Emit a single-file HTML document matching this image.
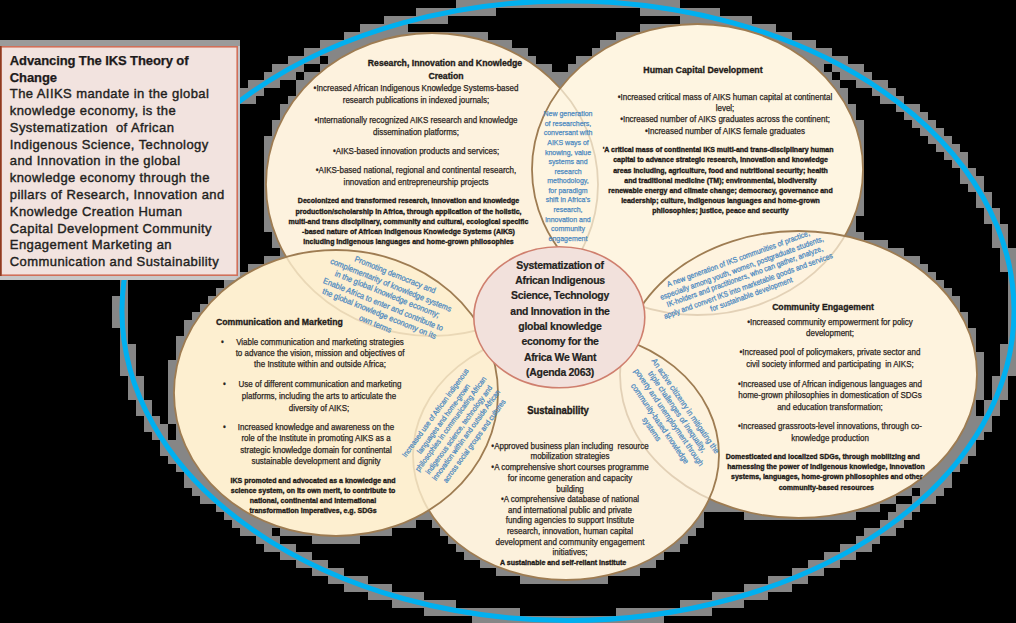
<!DOCTYPE html>
<html><head><meta charset="utf-8">
<style>
html,body{margin:0;padding:0;background:#000;}
body{width:1016px;height:623px;position:relative;overflow:hidden;font-family:"Liberation Sans",sans-serif;}
svg{position:absolute;left:0;top:0;}
.t{position:absolute;white-space:pre;color:#2b2522;text-align:center;-webkit-text-stroke:0.25px currentColor;}
</style></head><body>
<svg width="1016" height="623" viewBox="0 0 1016 623">
  <defs></defs><g id="fringe"><path d="M456 0h224v8h-224zM416 8h80v8h-80zM640 8h80v8h-80zM384 16h64v8h-64zM680 16h72v8h-72zM360 24h48v8h-48zM640 24h136v8h-136zM344 32h144v8h-144zM616 32h176v8h-176zM0 40h240v8h-240zM320 40h192v8h-192zM600 40h216v8h-216zM0 48h240v8h-240zM304 48h224v8h-224zM592 48h240v8h-240zM0 56h240v8h-240zM288 56h32v8h-32zM328 56h208v8h-208zM576 56h272v8h-272zM0 64h240v8h-240zM272 64h32v8h-32zM320 64h232v8h-232zM568 64h256v8h-256zM832 64h32v8h-32zM0 72h240v8h-240zM264 72h32v8h-32zM304 72h528v8h-528zM840 72h32v8h-32zM0 80h240v8h-240zM248 80h32v8h-32zM296 80h544v8h-544zM856 80h32v8h-32zM0 88h264v8h-264zM296 88h552v8h-552zM872 88h24v8h-24zM0 96h256v8h-256zM288 96h560v8h-560zM880 96h24v8h-24zM0 104h240v8h-240zM280 104h576v8h-576zM896 104h24v8h-24zM0 112h240v8h-240zM280 112h576v8h-576zM904 112h24v8h-24zM0 120h240v8h-240zM272 120h592v8h-592zM912 120h24v8h-24zM0 128h240v8h-240zM272 128h592v8h-592zM920 128h24v8h-24zM0 136h240v8h-240zM264 136h600v8h-600zM928 136h24v8h-24zM0 144h240v8h-240zM264 144h600v8h-600zM936 144h24v8h-24zM0 152h240v8h-240zM264 152h600v8h-600zM944 152h24v8h-24zM0 160h240v8h-240zM264 160h600v8h-600zM952 160h16v8h-16zM0 168h240v8h-240zM264 168h600v8h-600zM960 168h16v8h-16zM0 176h240v8h-240zM264 176h600v8h-600zM960 176h24v8h-24zM0 184h240v8h-240zM264 184h600v8h-600zM968 184h16v8h-16zM0 192h240v8h-240zM264 192h600v8h-600zM976 192h16v8h-16zM0 200h240v8h-240zM264 200h600v8h-600zM976 200h16v8h-16zM0 208h240v8h-240zM264 208h600v8h-600zM984 208h16v8h-16zM0 216h240v8h-240zM264 216h592v8h-592zM984 216h16v8h-16zM0 224h240v8h-240zM264 224h592v8h-592zM992 224h16v8h-16zM0 232h240v8h-240zM272 232h592v8h-592zM992 232h16v8h-16zM0 240h240v8h-240zM272 240h616v8h-616zM992 240h16v8h-16zM0 248h240v8h-240zM280 248h624v8h-624zM1000 248h16v8h-16zM0 256h240v8h-240zM264 256h656v8h-656zM1000 256h16v8h-16zM0 264h240v8h-240zM248 264h680v8h-680zM1000 264h16v8h-16zM0 272h936v8h-936zM1008 272h8v8h-8zM120 280h8v8h-8zM224 280h720v8h-720zM1008 280h8v8h-8zM120 288h8v8h-8zM216 288h736v8h-736zM1008 288h8v8h-8zM112 296h16v8h-16zM208 296h752v8h-752zM1008 296h8v8h-8zM112 304h16v8h-16zM200 304h760v8h-760zM1008 304h8v8h-8zM112 312h16v8h-16zM192 312h776v8h-776zM1008 312h8v8h-8zM112 320h16v8h-16zM184 320h784v8h-784zM1008 320h8v8h-8zM120 328h8v8h-8zM184 328h792v8h-792zM1008 328h8v8h-8zM120 336h8v8h-8zM176 336h800v8h-800zM1008 336h8v8h-8zM120 344h16v8h-16zM176 344h800v8h-800zM1000 344h16v8h-16zM120 352h16v8h-16zM176 352h808v8h-808zM1000 352h16v8h-16zM120 360h16v8h-16zM168 360h816v8h-816zM1000 360h16v8h-16zM120 368h16v8h-16zM168 368h816v8h-816zM1000 368h16v8h-16zM128 376h16v8h-16zM168 376h816v8h-816zM992 376h16v8h-16zM128 384h16v8h-16zM168 384h816v8h-816zM992 384h16v8h-16zM128 392h16v8h-16zM168 392h816v8h-816zM992 392h16v8h-16zM136 400h16v8h-16zM168 400h808v8h-808zM984 400h16v8h-16zM136 408h16v8h-16zM168 408h808v8h-808zM984 408h16v8h-16zM144 416h16v8h-16zM168 416h824v8h-824zM144 424h24v8h-24zM176 424h816v8h-816zM152 432h16v8h-16zM176 432h808v8h-808zM160 440h816v8h-816zM160 448h816v8h-816zM168 456h800v8h-800zM176 464h784v8h-784zM184 472h768v8h-768zM184 480h768v8h-768zM192 488h720v8h-720zM920 488h24v8h-24zM200 496h696v8h-696zM912 496h24v8h-24zM216 504h664v8h-664zM896 504h24v8h-24zM224 512h480v8h-480zM744 512h112v8h-112zM888 512h24v8h-24zM232 520h184v8h-184zM432 520h272v8h-272zM880 520h24v8h-24zM240 528h32v8h-32zM280 528h112v8h-112zM440 528h256v8h-256zM864 528h32v8h-32zM256 536h24v8h-24zM312 536h48v8h-48zM448 536h240v8h-240zM856 536h24v8h-24zM264 544h32v8h-32zM456 544h224v8h-224zM840 544h32v8h-32zM280 552h32v8h-32zM464 552h200v8h-200zM824 552h32v8h-32zM296 560h32v8h-32zM480 560h176v8h-176zM808 560h32v8h-32zM312 568h32v8h-32zM496 568h144v8h-144zM792 568h32v8h-32zM328 576h40v8h-40zM520 576h88v8h-88zM768 576h40v8h-40zM344 584h48v8h-48zM744 584h48v8h-48zM368 592h56v8h-56zM712 592h56v8h-56zM392 600h64v8h-64zM680 600h64v8h-64zM424 608h96v8h-96zM616 608h96v8h-96zM472 616h192v7h-192z" fill="#868686"/></g>
  <ellipse cx="568" cy="310.7" rx="446" ry="309.8" fill="none" stroke="#00B0F0" stroke-width="5"/>
  <rect x="0" y="40" width="240" height="240" fill="#9a9b9b"/><rect x="0" y="274" width="240" height="6" fill="#c8c8c8"/><rect x="236" y="46" width="4" height="234" fill="#c4c4c8"/>
  <rect x="0.8" y="46.8" width="236.4" height="228.4" fill="#F2E3DF" stroke="#D0705A" stroke-width="1.6"/>
  <rect x="0" y="46" width="1.6" height="230" fill="#8E3B20"/>
  <g fill="#FDF2DE">
    <ellipse cx="432" cy="184.5" rx="166" ry="151.5"/>
    <ellipse cx="697.5" cy="169.5" rx="165.5" ry="145.5" fill="#FEF5E0"/>
    <ellipse cx="798.5" cy="374.5" rx="178.5" ry="143.5"/>
    <ellipse cx="566" cy="455" rx="153" ry="125" fill="#FCF1DC"/>
    <ellipse cx="336" cy="393" rx="162" ry="143" fill="#FCEFD0"/>
  </g>
  <g stroke="#9E7C52" stroke-width="1.8">
    <ellipse cx="432" cy="184.5" rx="166" ry="151.5" fill="none"/>
    <ellipse cx="697.5" cy="169.5" rx="165.5" ry="145.5" fill="#FEF5E0" fill-opacity="0.72"/>
    <ellipse cx="798.5" cy="374.5" rx="178.5" ry="143.5" fill="#FDF2DE" fill-opacity="0.72"/>
    <ellipse cx="566" cy="455" rx="153" ry="125" fill="#FCF1DC" fill-opacity="0.72"/>
    <ellipse cx="336" cy="393" rx="162" ry="143" fill="#FCEFD0" fill-opacity="0.8"/>
  </g>
  <ellipse cx="559.3" cy="317.3" rx="85.5" ry="70.5" fill="#F2E1DC" stroke="#CF7F6E" stroke-width="1.6"/>
</svg>

<div class="t" style="top:53.90px;font-size:13.00px;line-height:13.00px;font-weight:bold;color:#1d1a1a;letter-spacing:-0.1px;left:9.80px;transform-origin:0 50%;">Advancing The IKS Theory of</div>
<div class="t" style="top:70.66px;font-size:13.00px;line-height:13.00px;font-weight:bold;color:#1d1a1a;letter-spacing:-0.1px;left:9.80px;transform-origin:0 50%;">Change</div>
<div class="t" style="top:87.42px;font-size:13.00px;line-height:13.00px;color:#231f20;letter-spacing:0.42px;-webkit-text-stroke:0.4px currentColor;left:9.80px;transform-origin:0 50%;">The AIIKS mandate in the global</div>
<div class="t" style="top:104.18px;font-size:13.00px;line-height:13.00px;color:#231f20;letter-spacing:0.42px;-webkit-text-stroke:0.4px currentColor;left:9.80px;transform-origin:0 50%;">knowledge economy, is the</div>
<div class="t" style="top:120.94px;font-size:13.00px;line-height:13.00px;color:#231f20;letter-spacing:0.42px;-webkit-text-stroke:0.4px currentColor;left:9.80px;transform-origin:0 50%;">Systematization  of African</div>
<div class="t" style="top:137.70px;font-size:13.00px;line-height:13.00px;color:#231f20;letter-spacing:0.42px;-webkit-text-stroke:0.4px currentColor;left:9.80px;transform-origin:0 50%;">Indigenous Science, Technology</div>
<div class="t" style="top:154.46px;font-size:13.00px;line-height:13.00px;color:#231f20;letter-spacing:0.42px;-webkit-text-stroke:0.4px currentColor;left:9.80px;transform-origin:0 50%;">and Innovation in the global</div>
<div class="t" style="top:171.22px;font-size:13.00px;line-height:13.00px;color:#231f20;letter-spacing:0.42px;-webkit-text-stroke:0.4px currentColor;left:9.80px;transform-origin:0 50%;">knowledge economy through the</div>
<div class="t" style="top:187.98px;font-size:13.00px;line-height:13.00px;color:#231f20;letter-spacing:0.42px;-webkit-text-stroke:0.4px currentColor;left:9.80px;transform-origin:0 50%;">pillars of Research, Innovation and</div>
<div class="t" style="top:204.74px;font-size:13.00px;line-height:13.00px;color:#231f20;letter-spacing:0.42px;-webkit-text-stroke:0.4px currentColor;left:9.80px;transform-origin:0 50%;">Knowledge Creation Human</div>
<div class="t" style="top:221.50px;font-size:13.00px;line-height:13.00px;color:#231f20;letter-spacing:0.42px;-webkit-text-stroke:0.4px currentColor;left:9.80px;transform-origin:0 50%;">Capital Development Community</div>
<div class="t" style="top:238.26px;font-size:13.00px;line-height:13.00px;color:#231f20;letter-spacing:0.42px;-webkit-text-stroke:0.4px currentColor;left:9.80px;transform-origin:0 50%;">Engagement Marketing an</div>
<div class="t" style="top:255.02px;font-size:13.00px;line-height:13.00px;color:#231f20;letter-spacing:0.42px;-webkit-text-stroke:0.4px currentColor;left:9.80px;transform-origin:0 50%;">Communication and Sustainability</div>
<div class="t" style="top:58.15px;font-size:9.40px;line-height:9.40px;font-weight:bold;color:#1f1b18;-webkit-text-stroke:0.35px currentColor;left:445.20px;transform:translateX(-50%) scaleX(0.9259);">Research, Innovation and Knowledge</div>
<div class="t" style="top:70.65px;font-size:9.40px;line-height:9.40px;font-weight:bold;color:#1f1b18;-webkit-text-stroke:0.35px currentColor;left:445.60px;transform:translateX(-50%) scaleX(0.9259);">Creation</div>
<div class="t" style="top:84.15px;font-size:8.56px;line-height:8.56px;left:415.50px;transform:translateX(-50%) scaleX(0.9346);">•Increased African Indigenous Knowledge Systems-based</div>
<div class="t" style="top:95.95px;font-size:8.56px;line-height:8.56px;left:415.50px;transform:translateX(-50%) scaleX(0.9346);">research publications in indexed journals;</div>
<div class="t" style="top:115.85px;font-size:8.56px;line-height:8.56px;left:415.50px;transform:translateX(-50%) scaleX(0.9346);">•Internationally recognized AIKS research and knowledge</div>
<div class="t" style="top:127.65px;font-size:8.56px;line-height:8.56px;left:415.50px;transform:translateX(-50%) scaleX(0.9346);">dissemination platforms;</div>
<div class="t" style="top:147.25px;font-size:8.56px;line-height:8.56px;left:415.50px;transform:translateX(-50%) scaleX(0.9346);">•AIKS-based innovation products and services;</div>
<div class="t" style="top:166.15px;font-size:8.56px;line-height:8.56px;left:415.50px;transform:translateX(-50%) scaleX(0.9346);">•AIKS-based national, regional and continental research,</div>
<div class="t" style="top:177.95px;font-size:8.56px;line-height:8.56px;left:415.50px;transform:translateX(-50%) scaleX(0.9346);">innovation and entrepreneurship projects</div>
<div class="t" style="top:197.37px;font-size:7.00px;line-height:7.00px;font-weight:bold;color:#1f1b18;-webkit-text-stroke:0.35px currentColor;left:408.50px;transform:translateX(-50%);">Decolonized and transformed research, innovation and knowledge</div>
<div class="t" style="top:207.59px;font-size:7.00px;line-height:7.00px;font-weight:bold;color:#1f1b18;-webkit-text-stroke:0.35px currentColor;left:408.50px;transform:translateX(-50%);">production/scholarship in Africa, through application of the holistic,</div>
<div class="t" style="top:217.81px;font-size:7.00px;line-height:7.00px;font-weight:bold;color:#1f1b18;-webkit-text-stroke:0.35px currentColor;left:408.50px;transform:translateX(-50%);">multi-and trans disciplinary, community and cultural, ecological specific</div>
<div class="t" style="top:228.03px;font-size:7.00px;line-height:7.00px;font-weight:bold;color:#1f1b18;-webkit-text-stroke:0.35px currentColor;left:408.50px;transform:translateX(-50%);">-based nature of African Indigenous Knowledge Systems (AIKS)</div>
<div class="t" style="top:238.25px;font-size:7.00px;line-height:7.00px;font-weight:bold;color:#1f1b18;-webkit-text-stroke:0.35px currentColor;left:408.50px;transform:translateX(-50%);">including indigenous languages and home-grown philosophies</div>
<div class="t" style="top:65.35px;font-size:9.50px;line-height:9.50px;font-weight:bold;color:#1f1b18;-webkit-text-stroke:0.35px currentColor;left:703.40px;transform:translateX(-50%) scaleX(0.9259);">Human Capital Development</div>
<div class="t" style="top:92.95px;font-size:8.56px;line-height:8.56px;left:724.50px;transform:translateX(-50%) scaleX(0.9346);">•Increased critical mass of AIKS human capital at continental</div>
<div class="t" style="top:104.35px;font-size:8.56px;line-height:8.56px;left:724.50px;transform:translateX(-50%) scaleX(0.9346);">level;</div>
<div class="t" style="top:115.15px;font-size:8.56px;line-height:8.56px;left:724.50px;transform:translateX(-50%) scaleX(0.9346);">•Increased number of AIKS graduates across the continent;</div>
<div class="t" style="top:126.95px;font-size:8.56px;line-height:8.56px;left:724.50px;transform:translateX(-50%) scaleX(0.9346);">•Increased number of AIKS female graduates</div>
<div class="t" style="top:146.27px;font-size:7.00px;line-height:7.00px;font-weight:bold;color:#1f1b18;-webkit-text-stroke:0.35px currentColor;left:718.10px;transform:translateX(-50%);">&#x27;A critical mass of continental IKS multi-and trans-disciplinary human</div>
<div class="t" style="top:156.42px;font-size:7.00px;line-height:7.00px;font-weight:bold;color:#1f1b18;-webkit-text-stroke:0.35px currentColor;left:720.50px;transform:translateX(-50%);">capital to advance strategic research, innovation and knowledge</div>
<div class="t" style="top:166.57px;font-size:7.00px;line-height:7.00px;font-weight:bold;color:#1f1b18;-webkit-text-stroke:0.35px currentColor;left:720.50px;transform:translateX(-50%);">areas including, agriculture, food and nutritional security; health</div>
<div class="t" style="top:176.72px;font-size:7.00px;line-height:7.00px;font-weight:bold;color:#1f1b18;-webkit-text-stroke:0.35px currentColor;left:720.50px;transform:translateX(-50%);">and traditional medicine (TM); environmental, biodiversity</div>
<div class="t" style="top:186.87px;font-size:7.00px;line-height:7.00px;font-weight:bold;color:#1f1b18;-webkit-text-stroke:0.35px currentColor;left:720.50px;transform:translateX(-50%);">renewable energy and climate change; democracy, governance and</div>
<div class="t" style="top:197.02px;font-size:7.00px;line-height:7.00px;font-weight:bold;color:#1f1b18;-webkit-text-stroke:0.35px currentColor;left:720.50px;transform:translateX(-50%);">leadership; culture, indigenous languages and home-grown</div>
<div class="t" style="top:207.17px;font-size:7.00px;line-height:7.00px;font-weight:bold;color:#1f1b18;-webkit-text-stroke:0.35px currentColor;left:720.50px;transform:translateX(-50%);">philosophies; justice, peace and security</div>
<div class="t" style="top:302.59px;font-size:9.34px;line-height:9.34px;font-weight:bold;color:#1f1b18;-webkit-text-stroke:0.35px currentColor;left:823.40px;transform:translateX(-50%) scaleX(0.9259);">Community Engagement</div>
<div class="t" style="top:317.55px;font-size:8.56px;line-height:8.56px;left:829.60px;transform:translateX(-50%) scaleX(0.9346);">•Increased community empowerment for policy</div>
<div class="t" style="top:329.35px;font-size:8.56px;line-height:8.56px;left:829.60px;transform:translateX(-50%) scaleX(0.9346);">development;</div>
<div class="t" style="top:348.35px;font-size:8.56px;line-height:8.56px;left:829.60px;transform:translateX(-50%) scaleX(0.9346);">•Increased pool of policymakers, private sector and</div>
<div class="t" style="top:360.05px;font-size:8.56px;line-height:8.56px;left:829.60px;transform:translateX(-50%) scaleX(0.9346);">civil society informed and participating  in AIKS;</div>
<div class="t" style="top:379.65px;font-size:8.56px;line-height:8.56px;left:829.60px;transform:translateX(-50%) scaleX(0.9346);">•Increased use of African indigenous languages and</div>
<div class="t" style="top:391.45px;font-size:8.56px;line-height:8.56px;left:829.60px;transform:translateX(-50%) scaleX(0.9346);">home-grown philosophies in domestication of SDGs</div>
<div class="t" style="top:402.55px;font-size:8.56px;line-height:8.56px;left:829.60px;transform:translateX(-50%) scaleX(0.9346);">and education transformation;</div>
<div class="t" style="top:422.45px;font-size:8.56px;line-height:8.56px;left:829.60px;transform:translateX(-50%) scaleX(0.9346);">•Increased grassroots-level innovations, through co-</div>
<div class="t" style="top:434.25px;font-size:8.56px;line-height:8.56px;left:829.60px;transform:translateX(-50%) scaleX(0.9346);">knowledge production</div>
<div class="t" style="top:452.97px;font-size:7.00px;line-height:7.00px;font-weight:bold;color:#1f1b18;-webkit-text-stroke:0.35px currentColor;left:822.80px;transform:translateX(-50%);">Domesticated and localized SDGs, through mobilizing and</div>
<div class="t" style="top:463.17px;font-size:7.00px;line-height:7.00px;font-weight:bold;color:#1f1b18;-webkit-text-stroke:0.35px currentColor;left:826.00px;transform:translateX(-50%);">harnessing the power of indigenous knowledge, innovation</div>
<div class="t" style="top:473.27px;font-size:7.00px;line-height:7.00px;font-weight:bold;color:#1f1b18;-webkit-text-stroke:0.35px currentColor;left:826.70px;transform:translateX(-50%);">systems, languages, home-grown philosophies and other</div>
<div class="t" style="top:483.67px;font-size:7.00px;line-height:7.00px;font-weight:bold;color:#1f1b18;-webkit-text-stroke:0.35px currentColor;left:826.30px;transform:translateX(-50%);">community-based resources</div>
<div class="t" style="top:317.45px;font-size:9.40px;line-height:9.40px;font-weight:bold;color:#1f1b18;-webkit-text-stroke:0.35px currentColor;left:215.60px;transform-origin:0 50%;transform:scaleX(0.9259);">Communication and Marketing</div>
<div class="t" style="top:338.15px;font-size:8.56px;line-height:8.56px;left:220.50px;transform-origin:0 50%;transform:scaleX(0.9346);">•</div>
<div class="t" style="top:380.45px;font-size:8.56px;line-height:8.56px;left:223.30px;transform-origin:0 50%;transform:scaleX(0.9346);">•</div>
<div class="t" style="top:423.15px;font-size:8.56px;line-height:8.56px;left:223.30px;transform-origin:0 50%;transform:scaleX(0.9346);">•</div>
<div class="t" style="top:338.15px;font-size:8.56px;line-height:8.56px;left:319.60px;transform:translateX(-50%) scaleX(0.9346);">Viable communication and marketing strategies</div>
<div class="t" style="top:349.45px;font-size:8.56px;line-height:8.56px;left:319.60px;transform:translateX(-50%) scaleX(0.9346);">to advance the vision, mission and objectives of</div>
<div class="t" style="top:360.25px;font-size:8.56px;line-height:8.56px;left:319.60px;transform:translateX(-50%) scaleX(0.9346);">the Institute within and outside Africa;</div>
<div class="t" style="top:380.45px;font-size:8.56px;line-height:8.56px;left:320.00px;transform:translateX(-50%) scaleX(0.9346);">Use of different communication and marketing</div>
<div class="t" style="top:391.75px;font-size:8.56px;line-height:8.56px;left:319.40px;transform:translateX(-50%) scaleX(0.9346);">platforms, including the arts to articulate the</div>
<div class="t" style="top:403.65px;font-size:8.56px;line-height:8.56px;left:319.40px;transform:translateX(-50%) scaleX(0.9346);">diversity of AIKS;</div>
<div class="t" style="top:423.15px;font-size:8.56px;line-height:8.56px;left:315.80px;transform:translateX(-50%) scaleX(0.9346);">Increased knowledge and awareness on the</div>
<div class="t" style="top:434.35px;font-size:8.56px;line-height:8.56px;left:316.20px;transform:translateX(-50%) scaleX(0.9346);">role of the Institute in promoting AIKS as a</div>
<div class="t" style="top:446.05px;font-size:8.56px;line-height:8.56px;left:315.80px;transform:translateX(-50%) scaleX(0.9346);">strategic knowledge domain for continental</div>
<div class="t" style="top:457.25px;font-size:8.56px;line-height:8.56px;left:315.90px;transform:translateX(-50%) scaleX(0.9346);">sustainable development and dignity</div>
<div class="t" style="top:477.27px;font-size:7.00px;line-height:7.00px;font-weight:bold;color:#1f1b18;-webkit-text-stroke:0.35px currentColor;left:313.00px;transform:translateX(-50%);">IKS promoted and advocated as a knowledge and</div>
<div class="t" style="top:487.07px;font-size:7.00px;line-height:7.00px;font-weight:bold;color:#1f1b18;-webkit-text-stroke:0.35px currentColor;left:313.00px;transform:translateX(-50%);">science system, on its own merit, to contribute to</div>
<div class="t" style="top:497.47px;font-size:7.00px;line-height:7.00px;font-weight:bold;color:#1f1b18;-webkit-text-stroke:0.35px currentColor;left:313.00px;transform:translateX(-50%);">national, continental and international</div>
<div class="t" style="top:507.17px;font-size:7.00px;line-height:7.00px;font-weight:bold;color:#1f1b18;-webkit-text-stroke:0.35px currentColor;left:313.00px;transform:translateX(-50%);">transformation imperatives, e.g. SDGs</div>
<div class="t" style="top:405.61px;font-size:10.26px;line-height:10.26px;font-weight:bold;color:#1f1b18;-webkit-text-stroke:0.35px currentColor;left:558.30px;transform:translateX(-50%) scaleX(0.9259);">Sustainability</div>
<div class="t" style="top:442.05px;font-size:8.56px;line-height:8.56px;left:569.80px;transform:translateX(-50%) scaleX(0.9346);">•Approved business plan including  resource</div>
<div class="t" style="top:452.05px;font-size:8.56px;line-height:8.56px;left:569.80px;transform:translateX(-50%) scaleX(0.9346);">mobilization strategies</div>
<div class="t" style="top:463.35px;font-size:8.56px;line-height:8.56px;left:569.80px;transform:translateX(-50%) scaleX(0.9346);">•A comprehensive short courses programme</div>
<div class="t" style="top:473.65px;font-size:8.56px;line-height:8.56px;left:569.80px;transform:translateX(-50%) scaleX(0.9346);">for income generation and capacity</div>
<div class="t" style="top:484.65px;font-size:8.56px;line-height:8.56px;left:569.80px;transform:translateX(-50%) scaleX(0.9346);">building</div>
<div class="t" style="top:495.25px;font-size:8.56px;line-height:8.56px;left:569.80px;transform:translateX(-50%) scaleX(0.9346);">•A comprehensive database of national</div>
<div class="t" style="top:505.75px;font-size:8.56px;line-height:8.56px;left:569.80px;transform:translateX(-50%) scaleX(0.9346);">and international public and private</div>
<div class="t" style="top:516.15px;font-size:8.56px;line-height:8.56px;left:569.80px;transform:translateX(-50%) scaleX(0.9346);">funding agencies to support Institute</div>
<div class="t" style="top:527.35px;font-size:8.56px;line-height:8.56px;left:569.80px;transform:translateX(-50%) scaleX(0.9346);">research, innovation, human capital</div>
<div class="t" style="top:537.85px;font-size:8.56px;line-height:8.56px;left:569.80px;transform:translateX(-50%) scaleX(0.9346);">development and community engagement</div>
<div class="t" style="top:548.45px;font-size:8.56px;line-height:8.56px;left:569.80px;transform:translateX(-50%) scaleX(0.9346);">initiatives;</div>
<div class="t" style="top:559.37px;font-size:7.00px;line-height:7.00px;font-weight:bold;color:#1f1b18;-webkit-text-stroke:0.35px currentColor;left:563.10px;transform:translateX(-50%);">A sustainable and self-reliant Institute</div>
<div class="t" style="top:259.82px;font-size:11.20px;line-height:11.20px;font-weight:bold;color:#231f20;letter-spacing:-0.3px;-webkit-text-stroke:0.2px currentColor;left:559.50px;transform:translateX(-50%) scaleX(0.9348);">Systematization of</div>
<div class="t" style="top:275.15px;font-size:11.20px;line-height:11.20px;font-weight:bold;color:#231f20;letter-spacing:-0.3px;-webkit-text-stroke:0.2px currentColor;left:559.50px;transform:translateX(-50%) scaleX(0.9348);">African Indigenous</div>
<div class="t" style="top:290.48px;font-size:11.20px;line-height:11.20px;font-weight:bold;color:#231f20;letter-spacing:-0.3px;-webkit-text-stroke:0.2px currentColor;left:559.50px;transform:translateX(-50%) scaleX(0.9348);">Science, Technology</div>
<div class="t" style="top:305.81px;font-size:11.20px;line-height:11.20px;font-weight:bold;color:#231f20;letter-spacing:-0.3px;-webkit-text-stroke:0.2px currentColor;left:559.50px;transform:translateX(-50%) scaleX(0.9348);">and Innovation in the</div>
<div class="t" style="top:321.14px;font-size:11.20px;line-height:11.20px;font-weight:bold;color:#231f20;letter-spacing:-0.3px;-webkit-text-stroke:0.2px currentColor;left:559.50px;transform:translateX(-50%) scaleX(0.9348);">global knowledge</div>
<div class="t" style="top:336.47px;font-size:11.20px;line-height:11.20px;font-weight:bold;color:#231f20;letter-spacing:-0.3px;-webkit-text-stroke:0.2px currentColor;left:559.50px;transform:translateX(-50%) scaleX(0.9348);">economy for the</div>
<div class="t" style="top:351.80px;font-size:11.20px;line-height:11.20px;font-weight:bold;color:#231f20;letter-spacing:-0.3px;-webkit-text-stroke:0.2px currentColor;left:559.50px;transform:translateX(-50%) scaleX(0.9348);">Africa We Want</div>
<div class="t" style="top:367.13px;font-size:11.20px;line-height:11.20px;font-weight:bold;color:#231f20;letter-spacing:-0.3px;-webkit-text-stroke:0.2px currentColor;left:559.50px;transform:translateX(-50%) scaleX(0.9348);">(Agenda 2063)</div>
<div class="t" style="top:110.18px;font-size:7.70px;line-height:7.70px;color:#4a88c0;left:567.50px;transform:translateX(-50%) scaleX(0.9091);">New generation</div>
<div class="t" style="top:119.76px;font-size:7.70px;line-height:7.70px;color:#4a88c0;left:567.50px;transform:translateX(-50%) scaleX(0.9091);">of researchers,</div>
<div class="t" style="top:129.34px;font-size:7.70px;line-height:7.70px;color:#4a88c0;left:567.50px;transform:translateX(-50%) scaleX(0.9091);">conversant with</div>
<div class="t" style="top:138.92px;font-size:7.70px;line-height:7.70px;color:#4a88c0;left:567.50px;transform:translateX(-50%) scaleX(0.9091);">AIKS ways of</div>
<div class="t" style="top:148.50px;font-size:7.70px;line-height:7.70px;color:#4a88c0;left:567.50px;transform:translateX(-50%) scaleX(0.9091);">knowing, value</div>
<div class="t" style="top:158.08px;font-size:7.70px;line-height:7.70px;color:#4a88c0;left:567.50px;transform:translateX(-50%) scaleX(0.9091);">systems and</div>
<div class="t" style="top:167.66px;font-size:7.70px;line-height:7.70px;color:#4a88c0;left:567.50px;transform:translateX(-50%) scaleX(0.9091);">research</div>
<div class="t" style="top:177.24px;font-size:7.70px;line-height:7.70px;color:#4a88c0;left:567.50px;transform:translateX(-50%) scaleX(0.9091);">methodology,</div>
<div class="t" style="top:186.82px;font-size:7.70px;line-height:7.70px;color:#4a88c0;left:567.50px;transform:translateX(-50%) scaleX(0.9091);">for paradigm</div>
<div class="t" style="top:196.40px;font-size:7.70px;line-height:7.70px;color:#4a88c0;left:567.50px;transform:translateX(-50%) scaleX(0.9091);">shift in Africa’s</div>
<div class="t" style="top:205.98px;font-size:7.70px;line-height:7.70px;color:#4a88c0;left:567.50px;transform:translateX(-50%) scaleX(0.9091);">research,</div>
<div class="t" style="top:215.56px;font-size:7.70px;line-height:7.70px;color:#4a88c0;left:567.50px;transform:translateX(-50%) scaleX(0.9091);">innovation and</div>
<div class="t" style="top:225.14px;font-size:7.70px;line-height:7.70px;color:#4a88c0;left:567.50px;transform:translateX(-50%) scaleX(0.9091);">community</div>
<div class="t" style="top:234.72px;font-size:7.70px;line-height:7.70px;color:#4a88c0;left:567.50px;transform:translateX(-50%) scaleX(0.9091);">engagement</div>
<div class="t" style="left:385.3px;top:299.9px;font-size:8.20px;line-height:10.5px;color:#4a88c0;transform:translate(-50%,-50%) rotate(22deg) scaleX(0.9091);">Promoting democracy and<br>complementarity of knowledge systems<br>in the global knowledge economy;<br>Enable Africa to enter and contribute to<br>the global knowledge economy on its<br>own terms</div>
<div class="t" style="left:745.4px;top:277px;font-size:7.65px;line-height:9.6px;color:#4a88c0;transform:translate(-50%,-50%) rotate(-20deg) scaleX(0.9091);">A new generation of IKS communities of practice,<br>especially among youth, women, postgraduate students,<br>IK-holders and practitioners, who can gather, analyze,<br>apply and convert IKS into marketable goods and services<br>for sustainable development</div>
<div class="t" style="left:455px;top:427.4px;font-size:7.48px;line-height:9.54px;color:#4a88c0;transform:translate(-50%,-50%) rotate(-54deg) scaleX(0.9091);">Increased use of African indigenous<br>languages and home-grown<br>philosophies in communicating African<br>indigenous science, technology and<br>innovation within and outside African<br>across social groups and cultures</div>
<div class="t" style="left:667.5px;top:417.6px;font-size:8.14px;line-height:10.2px;color:#4a88c0;transform:translate(-50%,-50%) rotate(55.5deg) scaleX(0.9091);">An active citizenry in mitigating the<br>triple challenges of inequality,<br>poverty and unemployment through<br>community-based knowledge<br>systems</div>
</body></html>
